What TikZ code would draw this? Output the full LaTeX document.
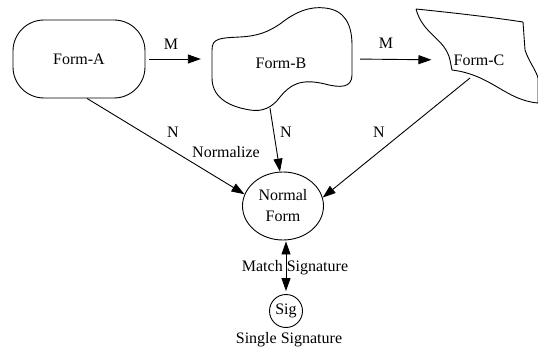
\documentclass[tikz,border=0pt]{standalone}
\usepackage{fontspec}
\setmainfont{Liberation Serif}
\usetikzlibrary{arrows.meta,shapes.geometric}
\begin{document}
\begin{tikzpicture}[x=1pt,y=-1pt,
  every node/.style={font=\fontsize{16}{21}\selectfont, inner sep=2pt},
  shapeline/.style={draw=black, line width=0.9pt},
  conn/.style={draw=black, line width=0.9pt, -{Triangle[length=13pt,width=9pt]}},
  lbl/.style={inner sep=0pt}]
\useasboundingbox (0,0) rectangle (538,350);
% Form-A
\node[shapeline, rounded corners=31pt, minimum width=132pt, minimum height=78pt] (A) at (79,59) {Form-A};
% Form-B blob
\draw[shapeline] (212,50) .. controls (212,38) and (220,38) .. (240,37)
  .. controls (258,36) and (268,32) .. (280,24)
  .. controls (295,12) and (310,6) .. (325,8)
  .. controls (345,10) and (352,25) .. (352,45)
  -- (352,75)
  .. controls (352,88) and (340,88) .. (325,84)
  .. controls (300,78) and (290,85) .. (280,97)
  .. controls (272,108) and (262,112) .. (250,110)
  .. controls (225,106) and (212,95) .. (212,78)
  -- cycle;
\node[minimum width=140pt, minimum height=104pt] (B) at (282,59) {};
\node (Btxt) at (281,63) {Form-B};
% Form-C shape
\draw[shapeline] (416,9) .. controls (455,13) and (490,17) .. (523,22)
  -- (525,50) .. controls (529,62) and (536,70) .. (538,78)
  -- (538,103) .. controls (505,100) and (492,75) .. (452,70)
  -- (450,60) .. controls (445,38) and (423,35) .. (416,9);
\node (C) at (479,60) {Form-C};
% Normal Form
\node[shapeline, ellipse, minimum width=81pt, minimum height=68pt, inner sep=0pt, align=center] (NF) at (283,206) {Normal\\Form};
% Sig
\node[shapeline, circle, minimum size=33pt, inner sep=0pt] (Sig) at (286,311) {Sig};
% connectors
\draw[conn, shorten <=4pt, shorten >=11pt] (A.east) -- (B.west);
\draw[conn, shorten <=8pt, shorten >=20pt] (B.east) -- (C.west);
\draw[conn] ([xshift=8pt]A.south) -- (NF.163);
\draw[conn] ([xshift=-12pt,yshift=3pt]B.south) -- (NF.95);
\draw[conn] ([xshift=-9pt,yshift=-18pt]C.center) -- (NF.12);
\draw[draw=black, line width=0.9pt, {Triangle[length=13pt,width=9pt]}-{Triangle[length=13pt,width=9pt]}, shorten <=1pt, shorten >=3pt] (NF.south -| Sig.north) -- (Sig.north);
% labels
\node[lbl] (m1) at (171,44) {M};
\node[lbl] (m2) at (386,43) {M};
\node[lbl] (n1) at (173,132) {N};
\node[lbl] (norm) at (226,152) {Normalize};
\node[lbl] (n2) at (286,132) {N};
\node[lbl] (n3) at (379,132) {N};
\node[lbl] (ms) at (295,268) {Match Signature};
\node[lbl] (ss) at (289,340) {Single Signature};
\end{tikzpicture}
\end{document}
